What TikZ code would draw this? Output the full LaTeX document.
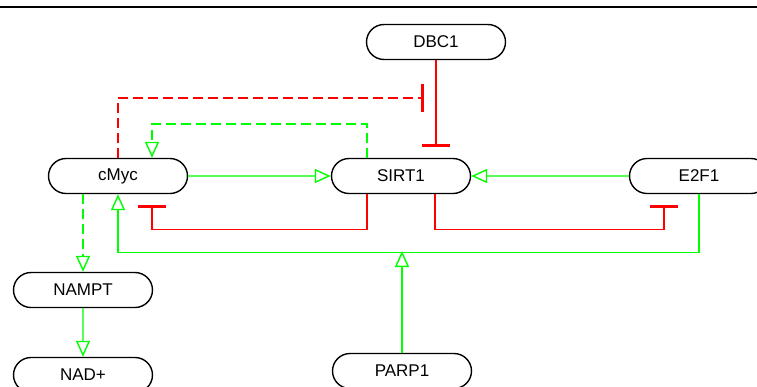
\documentclass[tikz,border=0pt]{standalone}
\usepackage{fontspec}
\setmainfont{Liberation Sans}
\usepackage{tikz}
\usetikzlibrary{arrows.meta,shapes.misc}

\definecolor{actgreen}{RGB}{0,255,0}
\definecolor{inhred}{RGB}{255,0,0}

\begin{document}
\begin{tikzpicture}[x=1pt,y=-1pt]
		\tikzset{vertex/.style = {shape=rounded rectangle,draw,line width=1.4pt,minimum width=139pt,minimum height=35pt,inner sep=0pt,font=\fontsize{17}{20}\selectfont}}
		\tikzset{edge/.style = {draw=actgreen,line width=1.4pt,-{Triangle[open,length=16pt,width=14pt]}}}
		\tikzset{block/.style = {draw=inhred,line width=1.4pt,-{Bar[width=28pt,line width=3pt]},shorten >=11pt}}
		\useasboundingbox (0,0) rectangle (757,386);
		\draw[line width=1.6pt] (0,7) -- (757,7);
		
		\node[vertex] (dbc1) at  (436,42) {DBC1};
		\node[vertex] (cmyc) at  (118,176) {cMyc};
		\node[vertex] (sirt1) at  (401,176) {SIRT1};
		\node[vertex] (e2f1) at  (699,176) {E2F1};
		\node[vertex] (nampt) at  (83,290) {NAMPT};
		\node[vertex] (nad) at  (83,375) {NAD+};
		\node[vertex] (parp1) at  (402,371) {PARP1};
		
		\coordinate (dbcmid) at (436,98);
		\coordinate (junc) at (402,251);
		
		\draw[block] (dbc1.south) to ([xshift=35pt]sirt1.north);
		\draw[block,dash pattern=on 10pt off 5pt,shorten >=12pt] (cmyc.north) |- (dbcmid);
		\draw[edge,dash pattern=on 10pt off 5pt] ([xshift=-34pt]sirt1.north) -- ++(0,-34) -| ([xshift=34pt]cmyc.north);
		\draw[edge] (cmyc) to (sirt1);
		\draw[edge] (e2f1) to (sirt1);
		\draw[block] ([xshift=-34pt]sirt1.south) -- ++(0,35) -| ([xshift=34pt]cmyc.south);
		\draw[block] ([xshift=34pt]sirt1.south) -- ++(0,35) -| ([xshift=-35pt]e2f1.south);
		\draw[edge] (e2f1.south) -- ++(0,58) -| (cmyc.south);
		\draw[edge] (parp1) to (junc);
		\draw[edge,dash pattern=on 10pt off 5pt] ([xshift=-35pt]cmyc.south) to (nampt.north);
		\draw[edge] (nampt) to (nad);
		\end{tikzpicture}
\end{document}
